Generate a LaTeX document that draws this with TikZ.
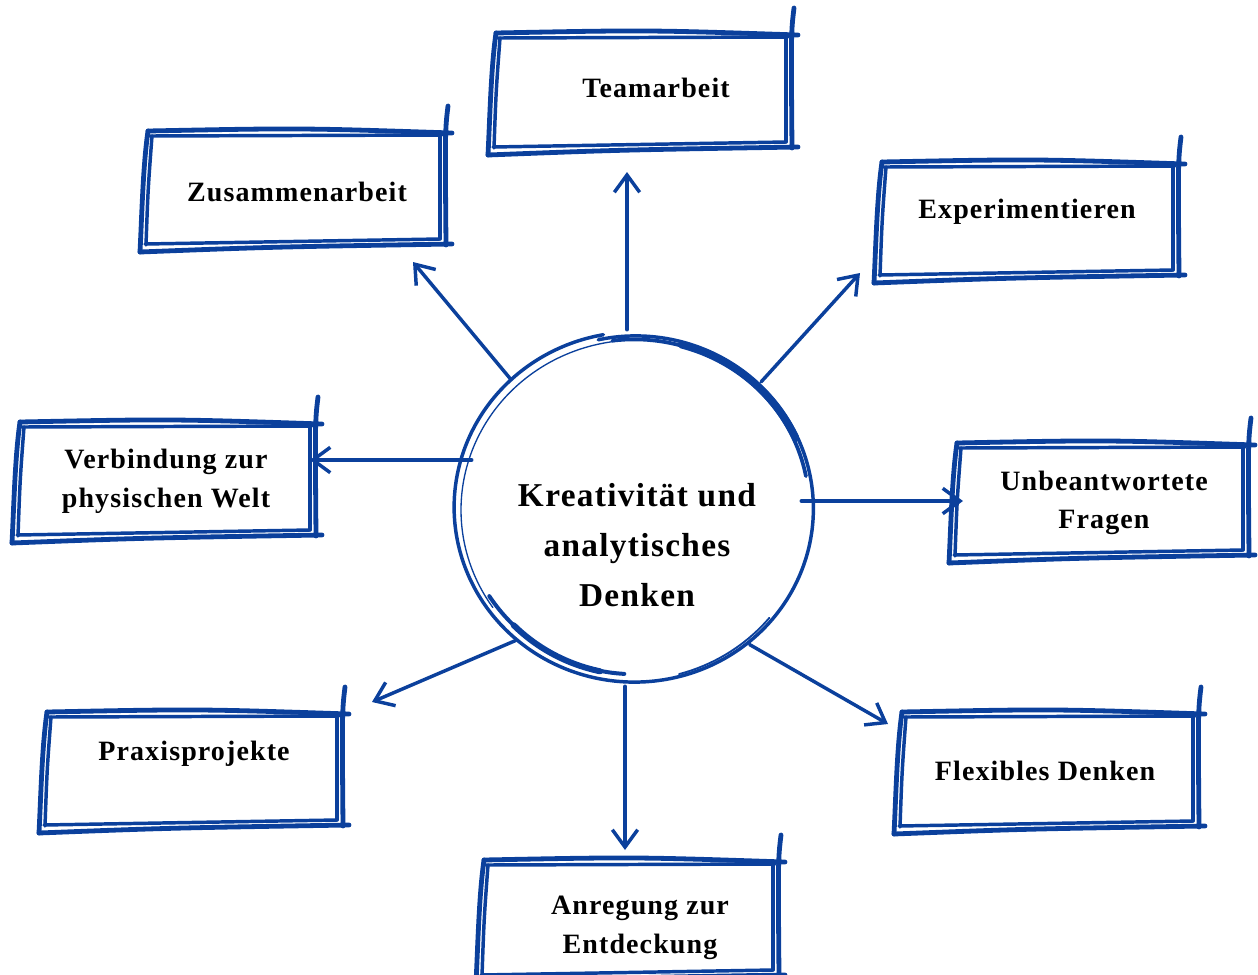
\documentclass[tikz,border=0pt]{standalone}
\usepackage{fontspec}
\setmainfont{Liberation Serif}
\newfontfamily\lbfont[LetterSpace=4]{Liberation Serif}
\usetikzlibrary{arrows.meta,calc}
\definecolor{skb}{HTML}{0B409C}
\tikzset{
  sk/.style={draw=skb, line width=3.6pt, line cap=round, line join=round},
  ski/.style={draw=skb, line width=2.6pt, line cap=round},
  ring/.style={draw=skb, line cap=round},
  arr/.style={draw=skb, line width=2.6pt, line cap=round,
    -{Straight Barb[length=13pt,width=19pt,line width=2.6pt]}},
  lbl/.style={font=\lbfont\bfseries\fontsize{21}{29}\selectfont, align=center, inner sep=0pt, text=black},
  ctr/.style={font=\lbfont\bfseries\fontsize{25}{37.5}\selectfont, align=center, inner sep=0pt, text=black},
  hub/.style={circle, minimum size=267pt, inner sep=0pt},
}
% sketchy box: L T R B (pixel units, y downwards)
\newcommand\skbox[4]{%
  \draw[sk] (#1,#2) .. controls (#1-5,{#2+(#4-#2)*0.3}) and (#1-6,{#4-(#4-#2)*0.3}) .. (#1-8,#4+5);
  \draw[sk] (#1-8,#4+5) .. controls ({#1+(#3-#1)*0.4},#4) .. (#3,#4-3);
  \draw[sk] (#1,#2) .. controls ({#1+(#3-#1)*0.5},#2-3) .. (#3,#2+2);
  \draw[sk] (#3-4,#2-25) .. controls (#3-7,#2) .. (#3-6,#4-2);
  \draw[ski] (#1+2,#2+5) -- (#3-10,#2+4);
  \draw[ski] (#1+4,#2+5) .. controls (#1,{#2+(#4-#2)*0.5}) .. (#1-2,#4-2);
  \draw[ski] (#1-3,#4-3) -- (#3-12,#4-8);
  \draw[ski] (#3-12,#2+3) -- (#3-12,#4-8);
}
\begin{document}
\begin{tikzpicture}[x=0.75pt,y=-0.75pt]
\useasboundingbox (0,0) rectangle (1258,975);

% boxes
\skbox{496}{33}{798}{150}
\skbox{148}{131}{452}{247}
\skbox{882}{162}{1185}{278}
\skbox{20}{422}{322}{538}
\skbox{957}{443}{1255}{558}
\skbox{47}{712}{349}{828}
\skbox{902}{712}{1205}{829}
\skbox{484}{860}{785}{978}

% labels
\node[lbl] (t1) at (656,88) {Teamarbeit};
\node[lbl] (t2) at (297,192) {Zusammenarbeit};
\node[lbl] (t3) at (1027,212) {Experimentieren};
\node[lbl] (t4) at (166,481) {Verbindung zur\\physischen Welt};
\node[lbl] (t5) at (1104,503) {Unbeantwortete\\Fragen};
\node[lbl] (t6) at (194,754) {Praxisprojekte};
\node[lbl] (t7) at (1045,771) {Flexibles Denken};
\node[lbl] (t8) at (640,928) {Anregung zur\\Entdeckung};

% hub circle (sketched)
\node[hub] (c) at (635,508) {};
\draw[ring, line width=2.6pt] plot[domain=100:462, samples=120, smooth]
  ({635+(182-5*(\x-100)/360)*cos(\x)},{508-(176-4*(\x-100)/360)*sin(\x)});
\draw[ring, line width=1pt] plot[domain=95:215, samples=50, smooth]
  ({637+176*cos(\x)},{510-170*sin(\x)});
\draw[ring, line width=1.4pt] plot[domain=-40:-75, samples=30, smooth]
  ({633+178*cos(\x)},{506-174*sin(\x)});
\draw[ring, line width=2.8pt] plot[domain=98:12, samples=60, smooth]
  ({637+(177-0.05*(98-\x))*cos(\x)},{511-(172-0.05*(98-\x))*sin(\x)});
\draw[ring, line width=5.5pt] plot[domain=75:25, samples=50, smooth]
  ({636+176*cos(\x)},{510-171*sin(\x)});
\draw[ring, line width=3pt] plot[domain=212:266, samples=40, smooth]
  ({636+(173-0.1*(\x-212))*cos(\x)},{505-(172-0.05*(\x-212))*sin(\x)});
\draw[ring, line width=4.5pt] plot[domain=225:258, samples=30, smooth]
  ({636+173*cos(\x)},{505-170*sin(\x)});

\node[ctr] (ct) at (637,545) {Kreativität und\\analytisches\\Denken};

% arrow end points
\coordinate (e1) at (627,172);
\coordinate (e2) at (413,262);
\coordinate (e3) at (860,273);
\coordinate (e4) at (310,460);
\coordinate (e5) at (963,501);
\coordinate (e6) at (372,702);
\coordinate (e7) at (625,850);
\coordinate (e8) at (888,724);

\draw[arr] (c.north -| e1) -- (e1);
\draw[arr] (c.134) -- (e2);
\draw[arr] (c.45) -- (e3);
\draw[arr] ([xshift=11.25pt]c.west |- e4) -- (e4);
\draw[arr] ([xshift=-9pt]c.east |- e5) -- (e5);
\draw[arr] (c.228) -- (e6);
\draw[arr] (c.south -| e7) -- (e7);
\draw[arr] (c.-50) -- (e8);
\end{tikzpicture}
\end{document}
